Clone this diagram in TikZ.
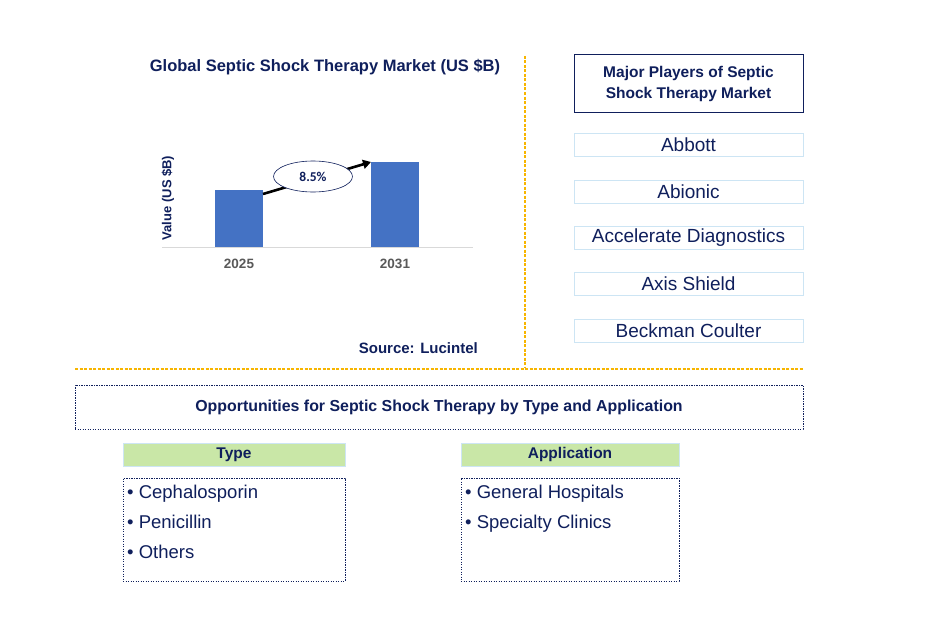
\documentclass[tikz,border=0pt]{standalone}
\usepackage{fontspec}
\setmainfont{Liberation Sans}
\newfontfamily\calibrifont{Carlito}
\usetikzlibrary{shapes.geometric, arrows.meta, positioning}
\definecolor{navytext}{HTML}{0F1F5C}
\definecolor{barblue}{HTML}{4472C4}
\definecolor{dashorange}{HTML}{F7B500}
\definecolor{paleblue}{HTML}{CDE5F4}
\definecolor{headgreen}{HTML}{C9E7A7}
\definecolor{axisgray}{HTML}{D9D9D9}
\definecolor{yeargray}{HTML}{595959}

\tikzset{
  dotbox/.style={draw=navytext, dash pattern=on 1.2pt off 1.3pt, line width=0.9pt},
  playerbox/.style={draw=paleblue, line width=0.9pt, minimum width=229pt, minimum height=23pt,
    inner sep=0pt, text=navytext, font=\fontsize{19}{20}\selectfont},
  headbox/.style={draw=paleblue, line width=0.9pt, fill=headgreen, minimum height=23pt,
    inner sep=0pt, text=navytext, font=\bfseries\fontsize{15.5}{18}\selectfont},
  listbox/.style={dotbox, minimum height=103pt, inner sep=0pt},
  listitem/.style={anchor=base west, inner sep=0pt, text=navytext, font=\fontsize{18.5}{20}\selectfont},
  bar/.style={fill=barblue, minimum width=48pt, inner sep=0pt, anchor=south},
  year/.style={text=yeargray, font=\bfseries\fontsize{13.5}{15}\selectfont},
  sepline/.style={draw=dashorange, dash pattern=on 3pt off 1.5pt, line width=1.1pt}
}

\begin{document}
\begin{tikzpicture}[x=1pt, y=-1pt]
  \fill[white] (0,0) rectangle (932,642);
  \useasboundingbox (0,0) rectangle (932,642);

  % chart
  \node[text=navytext, font=\bfseries\fontsize{16.5}{18}\selectfont] (title) at (325,67) {Global Septic Shock Therapy Market (US \$B)};
  \draw[axisgray, line width=1pt] (162,247) coordinate (axisl) -- (473,247) coordinate (axisr);
  \node[bar, minimum height=57pt] (bar25) at (239,247) {};
  \node[bar, minimum height=85pt] (bar31) at (395,247) {};
  \node[year] (y25) at (239,264) {2025};
  \node[year] (y31) at (395,264) {2031};
  \node[rotate=90, text=navytext, font=\bfseries\fontsize{13}{15}\selectfont] (ylabel) at (168,198) {Value (US \$B)};
  \coordinate (gstart) at (263,194);
  \coordinate (gend) at (371,162);
  \draw[black, line width=2.6pt, -{Triangle[length=8pt, width=9pt]}] (gstart) -- (gend);
  \node[ellipse, draw=navytext, line width=0.6pt, fill=white, minimum width=79pt, minimum height=31pt,
    inner sep=0pt, text=navytext, font=\calibrifont\bfseries\fontsize{13.5}{15}\selectfont] (growth) at (313,176.5) {8.5\%};
  \node[anchor=east, inner sep=0pt, text=navytext, font=\bfseries\fontsize{15}{17}\selectfont] (source) at (478,348) {Source: Lucintel};

  % separators
  \draw[sepline] (525,56) coordinate (vtop) -- (525,368) coordinate (vbot);
  \draw[sepline] (75,369) coordinate (hl) -- (803,369) coordinate (hr);

  % players
  \node[draw=navytext, line width=1pt, minimum width=229pt, minimum height=57pt, inner sep=0pt, align=center,
    text=navytext, font=\bfseries\fontsize{15.5}{21}\selectfont] (players) at (688.5,83.5) {Major Players of Septic\\Shock Therapy Market};
  \node[playerbox] (abbott) at (688.5,145) {Abbott};
  \node[playerbox] (abionic) at (688.5,192) {Abionic};
  \node[playerbox] (accel) at (688.5,238) {Accelerate Diagnostics};
  \node[playerbox] (axis) at (688.5,284) {Axis Shield};
  \node[playerbox] (beckman) at (688.5,331) {Beckman Coulter};

  % opportunities
  \node[dotbox, minimum width=728pt, minimum height=44pt, inner sep=0pt,
    text=navytext, font=\bfseries\fontsize{15.9}{18}\selectfont] (opp) at (439,407) {Opportunities for Septic Shock Therapy by Type and Application};
  \node[headbox, minimum width=222pt] (typehead) at (234,454.5) {Type};
  \node[headbox, minimum width=218pt] (apphead) at (570,454.5) {Application};
  \node[listbox, minimum width=222pt] (typelist) at (234,529.5) {};
  \node[listbox, minimum width=218pt] (applist) at (570,529.5) {};
  \node[listitem] (type1) at (127,498) {• Cephalosporin};
  \node[listitem] (type2) at (127,528) {• Penicillin};
  \node[listitem] (type3) at (127,558) {• Others};
  \node[listitem] (app1) at (465,498) {• General Hospitals};
  \node[listitem] (app2) at (465,528) {• Specialty Clinics};
\end{tikzpicture}
\end{document}
